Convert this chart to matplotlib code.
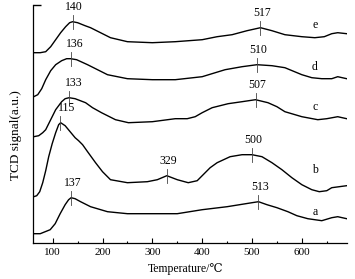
import numpy as np
import matplotlib
matplotlib.use("Agg")
import matplotlib.pyplot as plt
from matplotlib.ticker import MultipleLocator, NullLocator

# ---- data (temperature in °C, TCD signal in a.u.) ----
temp_a = [62, 75, 85, 95, 105, 115, 125, 132, 137, 145, 156, 176, 210, 250, 300, 350, 400, 450, 500, 513,
          530, 550, 572, 590, 612, 640, 660, 672, 690]
sig_a = [9, 9, 11, 13, 19, 29, 38, 43, 45, 44, 41, 36, 31, 29, 29, 29, 33, 36, 40, 41,
         38, 35, 31, 27, 24, 22, 25, 26, 24]

temp_b = [62, 68, 74, 80, 86, 92, 99, 106, 112, 116, 125, 135, 145, 152, 160, 170, 186, 200, 216, 250,
          290, 310, 329, 350, 372, 390, 402, 416, 430, 456, 480, 500, 520, 540, 560, 580, 600, 620, 635,
          650, 660, 675, 690]
sig_b = [46, 47, 51, 60, 72, 86, 99, 110, 118, 120, 117, 111, 105, 102, 98, 91, 80, 71, 63, 60,
         61, 63, 67, 63, 60, 62, 68, 75, 80, 86, 88, 88, 86, 80, 73, 65, 58, 53, 51,
         52, 55, 56, 57]

temp_c = [62, 72, 80, 86, 96, 106, 118, 125, 133, 145, 166, 180, 198, 226, 252, 300, 346, 370, 386, 400,
          420, 452, 480, 507, 532, 550, 566, 600, 632, 650, 672, 690]
sig_c = [106, 107, 110, 113, 123, 133, 141, 144, 145, 144, 140, 135, 130, 123, 120, 121, 124, 124, 126, 130,
         135, 139, 141, 143, 140, 136, 131, 126, 123, 124, 126, 124]

temp_d = [62, 70, 78, 86, 96, 106, 118, 128, 136, 148, 170, 190, 210, 250, 300, 346, 400, 446, 480, 510,
          540, 566, 600, 620, 640, 660, 672, 690]
sig_d = [146, 148, 154, 163, 172, 178, 182, 184, 184, 183, 178, 173, 168, 164, 163, 163, 166, 173, 176, 178,
         177, 175, 168, 165, 164, 164, 166, 164]

temp_e = [62, 75, 86, 96, 106, 116, 126, 134, 140, 150, 165, 176, 196, 216, 250, 300, 346, 400, 430, 460,
          490, 517, 540, 566, 600, 626, 645, 660, 672, 690]
sig_e = [190, 190, 191, 196, 203, 210, 216, 220, 221, 220, 217, 215, 210, 205, 201, 200, 201, 203, 206, 208,
         212, 215, 212, 208, 206, 205, 206, 209, 210, 209]

series_names = ["a", "b", "c", "d", "e"]
peaks_a = [137, 513]
peaks_b = [115, 329, 500]
peaks_c = [133, 507]
peaks_d = [136, 510]
peaks_e = [140, 517]

x_ticks = [100, 200, 300, 400, 500, 600]
x_label = "Temperature/\u2103"
y_label = "TCD signal(a.u.)"

# ---- plotting ----
plt.rcParams['font.family'] = ['Liberation Serif', 'DejaVu Serif']
plt.rcParams['mathtext.fontset'] = 'stix'

fig = plt.figure(figsize=(3.55, 2.79), dpi=100)
ax = fig.add_axes([32.5 / 355, 36.3 / 279, 314 / 355, 238.2 / 279])

series = [(temp_a, sig_a, peaks_a), (temp_b, sig_b, peaks_b), (temp_c, sig_c, peaks_c),
          (temp_d, sig_d, peaks_d), (temp_e, sig_e, peaks_e)]

label_pos = {"a": 31, "b": 73, "c": 136, "d": 176, "e": 218}
label_dx = {115: 5.0, 133: 3.0, 136: 3.0}

for name, (t, s, pk) in zip(series_names, series):
    ax.plot(t, s, color="black", lw=1.0, solid_joinstyle="round", antialiased=True)
    for p in pk:
        yv = float(np.interp(p, t, s))
        ax.plot([p, p], [yv - 7, yv + 7], color="#444444", lw=0.6)
        ax.annotate(str(p), xy=(p, yv + 7), xytext=(label_dx.get(p, 1.0), 1.5),
                    textcoords="offset points", ha="center", va="bottom", fontsize=8.5)
    ax.text(626, label_pos[name], name, ha="center", va="center", fontsize=8.5)

ax.set_xlim(59.5, 689.6)
ax.set_ylim(0, 238.2)

for sp in ["top", "right"]:
    ax.spines[sp].set_visible(False)
for sp in ["left", "bottom"]:
    ax.spines[sp].set_linewidth(0.9)

ax.set_xticks(x_ticks)
ax.set_xticklabels([str(v) for v in x_ticks])
ax.xaxis.set_minor_locator(MultipleLocator(50))
ax.tick_params(axis="x", which="major", direction="in", length=3.5, width=0.8, labelsize=8, pad=4)
ax.tick_params(axis="x", which="minor", direction="in", length=1.8, width=0.8)
ax.set_yticks([238.2])
ax.set_yticklabels([])
ax.yaxis.set_minor_locator(NullLocator())
ax.tick_params(axis="y", which="major", direction="in", length=6, width=1.0)

ax.set_xlabel(x_label, fontsize=8.5)
ax.xaxis.set_label_coords(0.486, -0.085)
ax.set_ylabel(y_label, fontsize=9.5)
ax.yaxis.set_label_coords(-0.035, 0.45)

fig.savefig("out.png", dpi=100)
